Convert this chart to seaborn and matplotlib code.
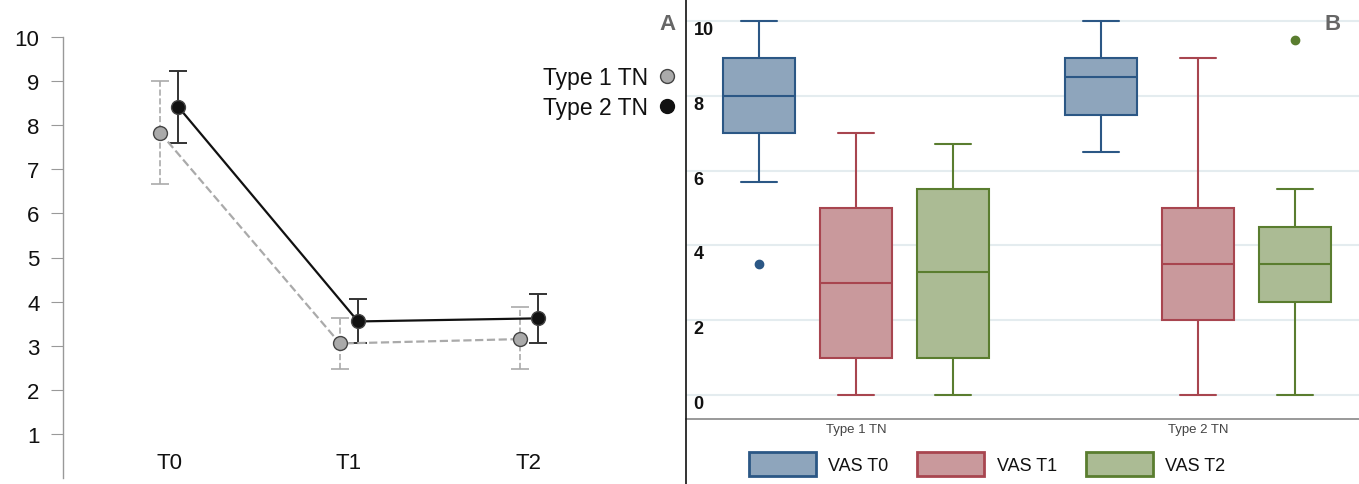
import pandas as pd
import numpy as np
import seaborn as sns
import matplotlib.pyplot as plt
from matplotlib.lines import Line2D
from matplotlib.patches import Patch

# Panel A: mean VAS with error bars
times = ['T0', 'T1', 'T2']
type1_mean = [7.83, 3.05, 3.15]
type1_low = [6.67, 2.48, 2.47]
type1_high = [9.00, 3.62, 3.88]
type2_mean = [8.42, 3.55, 3.62]
type2_low = [7.60, 3.05, 3.07]
type2_high = [9.23, 4.05, 4.17]

# Panel B: raw values read back so the boxes match (whiskers, quartiles, median, outliers)
groups = ['Type 1 TN', 'Type 2 TN']
vas_labels = ['VAS T0', 'VAS T1', 'VAS T2']
t1_vas_t0 = [3.5, 5.7, 7.0, 7.5, 8.0, 8.5, 9.0, 9.5, 10.0]
t1_vas_t1 = [0.0, 0.5, 1.0, 2.0, 3.0, 4.0, 5.0, 6.0, 7.0]
t1_vas_t2 = [0.0, 0.5, 1.0, 2.0, 3.3, 4.5, 5.5, 6.0, 6.7]
t2_vas_t0 = [6.5, 7.0, 7.5, 8.0, 8.5, 8.7, 9.0, 9.5, 10.0]
t2_vas_t1 = [0.0, 1.0, 2.0, 3.0, 3.5, 4.0, 5.0, 7.0, 9.0]
t2_vas_t2 = [0.0, 2.0, 2.5, 3.0, 3.5, 4.0, 4.5, 5.5, 9.5]

fills = {'VAS T0': '#8ea5bc', 'VAS T1': '#c9999c', 'VAS T2': '#abbb94'}
edges = {'VAS T0': '#2b5785', 'VAS T1': '#a8454f', 'VAS T2': '#5a7d2f'}

sns.set_style('white')
plt.rcParams['font.family'] = ['Liberation Sans', 'DejaVu Sans']

fig = plt.figure(figsize=(13.59, 4.85), dpi=100)

# ---------- Panel A ----------
axA = fig.add_axes([63 / 1359, 1 - 479 / 485, (680 - 63) / 1359, (479 - 38) / 485])
dfA = pd.DataFrame({
    'time': times * 2,
    'vas': type1_mean + type2_mean,
    'type': ['Type 1 TN'] * 3 + ['Type 2 TN'] * 3,
})
sns.pointplot(data=dfA, x='time', y='vas', hue='type', dodge=0.1, errorbar=None,
              palette={'Type 1 TN': '#aaaaaa', 'Type 2 TN': '#111111'},
              markers=['o', 'o'], linestyles=['--', '-'], markersize=10,
              markeredgecolor='#444444', markeredgewidth=1, linewidth=1.6,
              legend=False, ax=axA)

x = np.arange(len(times))
eb1 = axA.errorbar(x - 0.05, type1_mean,
                   yerr=[np.subtract(type1_mean, type1_low), np.subtract(type1_high, type1_mean)],
                   fmt='none', ecolor='#aaaaaa', elinewidth=1.2, capsize=6.5, capthick=1.2, zorder=1)
eb1[2][0].set_linestyle('--')
axA.errorbar(x + 0.05, type2_mean,
             yerr=[np.subtract(type2_mean, type2_low), np.subtract(type2_high, type2_mean)],
             fmt='none', ecolor='#333333', elinewidth=1.4, capsize=6.5, capthick=1.4, zorder=1)

axA.set_xlim(-0.59, 2.84)
axA.set_ylim(0, 10)
axA.set_yticks(range(1, 11))
axA.set_xlabel('')
axA.set_ylabel('')
for s in ['top', 'right', 'bottom']:
    axA.spines[s].set_visible(False)
axA.spines['left'].set_color('#999999')
axA.spines['left'].set_linewidth(1)
axA.tick_params(axis='y', left=True, length=9, color='#999999', labelsize=16,
                labelcolor='#111111', pad=8)
axA.tick_params(axis='x', length=0, labelsize=16, labelcolor='#111111', pad=-19)

leg_handles = [
    Line2D([], [], ls='none', marker='o', markersize=10, markerfacecolor='#aaaaaa', markeredgecolor='#444444'),
    Line2D([], [], ls='none', marker='o', markersize=10, markerfacecolor='#111111', markeredgecolor='#111111'),
]
axA.legend(leg_handles, ['Type 1 TN', 'Type 2 TN'], markerfirst=False, frameon=False,
           fontsize=16.5, loc='upper right', bbox_to_anchor=(1.012, 0.955),
           handletextpad=0.3, labelspacing=0.3, handlelength=1.0, borderaxespad=0,
           labelcolor='#111111')

fig.text(668 / 1359, 1 - 25 / 485, 'A', fontsize=16, fontweight='bold', color='#666666',
         ha='center', va='center')

# ---------- Panel B ----------
axB = fig.add_axes([686 / 1359, 1 - 420 / 485, (1359 - 686) / 1359, 420 / 485])
dfB = pd.DataFrame({
    'group': ['Type 1 TN'] * 27 + ['Type 2 TN'] * 27,
    'time': (['VAS T0'] * 9 + ['VAS T1'] * 9 + ['VAS T2'] * 9) * 2,
    'vas': t1_vas_t0 + t1_vas_t1 + t1_vas_t2 + t2_vas_t0 + t2_vas_t1 + t2_vas_t2,
})
sns.boxplot(data=dfB, x='group', y='vas', hue='time', hue_order=vas_labels, order=groups,
            palette=fills, saturation=1, linewidth=1.5, width=0.85, gap=0.26,
            flierprops=dict(marker='o', markersize=6),
            legend=False, ax=axB)

# recolour each box's lines with its own edge colour, picked by dodge position
slot = 0.85 / 3


def hue_of(xc):
    i = int(round((xc - round(xc)) / slot)) + 1
    return vas_labels[min(max(i, 0), 2)]


for p in axB.patches:
    xc = p.get_path().vertices[:, 0].mean()
    p.set_edgecolor(edges[hue_of(xc)])
for ln in axB.lines:
    xd = np.asarray(ln.get_xdata(), dtype=float)
    if xd.size == 0:
        continue
    c = edges[hue_of(xd.mean())]
    ln.set_color(c)
    ln.set_markerfacecolor(c)
    ln.set_markeredgecolor(c)

axB.set_xlim(-0.497, 1.47)
axB.set_ylim(-0.64, 10.59)
axB.set_yticks(range(0, 11, 2))
axB.yaxis.grid(True, color='#e4ecef', linewidth=1.5)
axB.set_axisbelow(True)
axB.set_xlabel('')
axB.set_ylabel('')
for s in ['top', 'right']:
    axB.spines[s].set_visible(False)
axB.spines['left'].set_visible(False)
axB.spines['bottom'].set_color('#888888')
axB.spines['bottom'].set_linewidth(1.2)
axB.tick_params(axis='y', length=0, pad=-5.5, labelsize=13, labelcolor='#111111')
for t in axB.get_yticklabels():
    t.set_fontweight('bold')
    t.set_horizontalalignment('left')
    t.set_verticalalignment('top')
    t.set_family(['Liberation Sans Narrow', 'Liberation Sans'])
axB.tick_params(axis='x', length=0, labelsize=9.5, labelcolor='#444444', pad=3)

fig.add_artist(Line2D([686 / 1359, 686 / 1359], [0, 1], transform=fig.transFigure,
                      color='#111111', linewidth=1.2))

fig.text(1333 / 1359, 1 - 25 / 485, 'B', fontsize=16, fontweight='bold', color='#666666',
         ha='center', va='center')

box_handles = [Patch(facecolor=fills[l], edgecolor=edges[l], linewidth=2) for l in vas_labels]
fig.legend(box_handles, vas_labels, loc='center', bbox_to_anchor=(987 / 1359, 1 - 465 / 485),
           ncol=3, frameon=False, handlelength=3.7, handleheight=1.6,
           handletextpad=0.7, columnspacing=1.6, labelcolor='#111111',
           prop={'family': ['Liberation Sans Narrow', 'Liberation Sans'], 'size': 13})

fig.savefig('out.png', dpi=100)
